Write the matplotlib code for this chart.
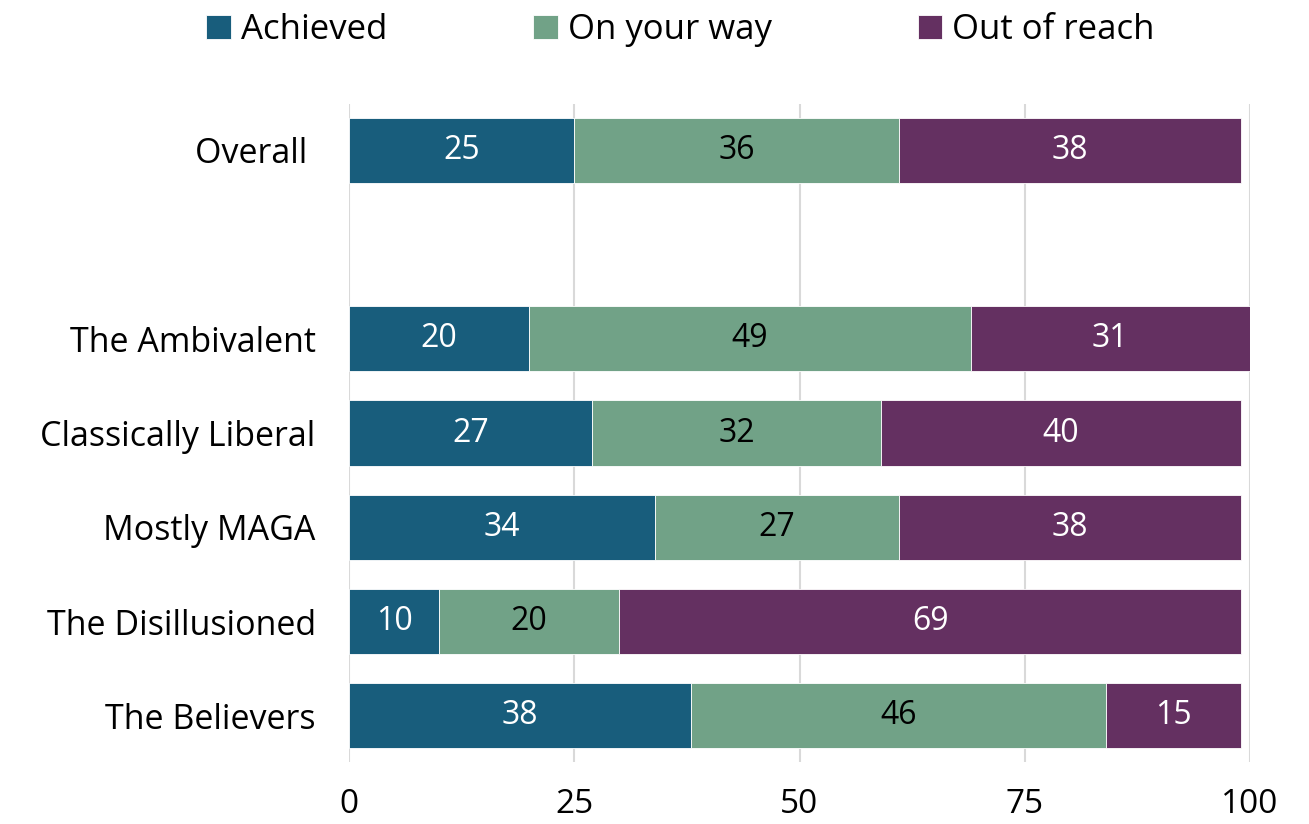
import matplotlib.pyplot as plt
import numpy as np

categories = ["The Believers", "The Disillusioned", "Mostly MAGA", "Classically Liberal", "The Ambivalent", "Overall "]
positions = [0, 1, 2, 3, 4, 6]
achieved = [38, 10, 34, 27, 20, 25]
on_your_way = [46, 20, 27, 32, 49, 36]
out_of_reach = [15, 69, 38, 40, 31, 38]

series = [("Achieved", achieved, "#185d7c", "white"),
          ("On your way", on_your_way, "#71a287", "black"),
          ("Out of reach", out_of_reach, "#643061", "white")]

plt.rcParams['font.family'] = ['Open Sans', 'DejaVu Sans']

fig = plt.figure(figsize=(13.09, 8.24), dpi=100)
ax = fig.add_axes([349/1309, 1-762/824, 901/1309, 658/824])

left = np.zeros(len(categories))
handles = []
for name, vals, col, tcol in series:
    vals = np.array(vals, dtype=float)
    bars = ax.barh(positions, vals, left=left, height=0.69, color=col,
                   edgecolor="white", linewidth=0.6, label=name, zorder=3)
    handles.append(bars)
    for y, l, v in zip(positions, left, vals):
        ax.text(l + v/2, y, f"{int(v)}", ha="center", va="center",
                color=tcol, fontsize=23, zorder=4)
    left += vals

ax.set_xlim(0, 100)
ax.set_ylim(-0.49, 6.49)
ax.set_xticks([0, 25, 50, 75, 100])
ax.set_yticks(positions)
ax.set_yticklabels(categories)
ax.tick_params(axis="x", length=0, pad=19, labelsize=24)
ax.tick_params(axis="y", length=0, pad=24, labelsize=24.5)
ax.grid(axis="x", color="#d9d9d9", linewidth=1.5, zorder=0)
for s in ax.spines.values():
    s.set_visible(False)

fig.legend(handles=handles, loc="upper center", bbox_to_anchor=(0.520, 1.022), ncol=3,
           frameon=False, handlelength=0.7, handleheight=0.7,
           handletextpad=0.3, columnspacing=4.2,
           prop={'size': 25})

fig.savefig("out.png", dpi=100)
